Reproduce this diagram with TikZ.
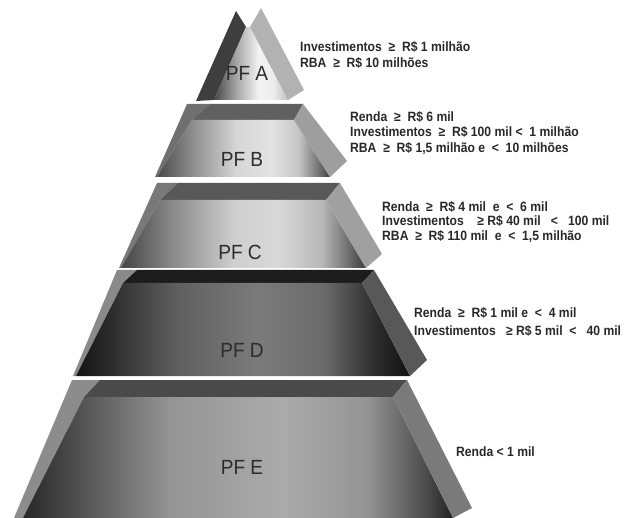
\documentclass[tikz,border=0pt]{standalone}
\usepackage{fontspec}
\setmainfont{Liberation Sans}
\newfontfamily\critfont{Liberation Sans}[FakeStretch=0.9]
\newfontfamily\lblfont{Liberation Sans}[FakeStretch=0.93]

\definecolor{txtcol}{RGB}{40,40,40}
\definecolor{lblcol}{RGB}{44,44,44}
\definecolor{sideA}{RGB}{62,62,62}
\definecolor{sideB}{RGB}{112,112,112}
\definecolor{sideC}{RGB}{120,120,120}
\definecolor{sideD}{RGB}{138,138,138}
\definecolor{sideE}{RGB}{140,140,140}
\definecolor{bevelB}{RGB}{96,96,96}
\definecolor{bevelC}{RGB}{88,88,88}
\definecolor{bevelD}{RGB}{28,28,28}
\definecolor{bevelE}{RGB}{74,74,74}
\definecolor{slabA}{RGB}{178,178,178}
\definecolor{slabB}{RGB}{158,158,158}
\definecolor{slabC}{RGB}{160,160,160}
\definecolor{slabD}{RGB}{88,88,88}
\definecolor{slabE}{RGB}{122,122,122}

\pgfdeclarehorizontalshading{frontA}{100bp}{color(0bp)=(black!72); color(25bp)=(black!72);
  color(40bp)=(black!35); color(55bp)=(black!5); color(65bp)=(black!7); color(75bp)=(black!25); color(100bp)=(black!25)}
\pgfdeclarehorizontalshading{frontB}{100bp}{color(0bp)=(black!71); color(25bp)=(black!71);
  color(35bp)=(black!45); color(48bp)=(black!16); color(58bp)=(black!11); color(66bp)=(black!23);
  color(72bp)=(black!57); color(75bp)=(black!76); color(100bp)=(black!76)}
\pgfdeclarehorizontalshading{frontC}{100bp}{color(0bp)=(black!73); color(25bp)=(black!73);
  color(35bp)=(black!47); color(48bp)=(black!19); color(57bp)=(black!15); color(66bp)=(black!28);
  color(72bp)=(black!60); color(75bp)=(black!77); color(100bp)=(black!77)}
\pgfdeclarehorizontalshading{frontD}{100bp}{color(0bp)=(black!92); color(25bp)=(black!92);
  color(30bp)=(black!83); color(40bp)=(black!63); color(52bp)=(black!52); color(62bp)=(black!58);
  color(70bp)=(black!83); color(75bp)=(black!93); color(100bp)=(black!93)}
\pgfdeclarehorizontalshading{frontE}{100bp}{color(0bp)=(black!85); color(25bp)=(black!85);
  color(32bp)=(black!67); color(42bp)=(black!42); color(55bp)=(black!33); color(65bp)=(black!42);
  color(72bp)=(black!71); color(75bp)=(black!87); color(100bp)=(black!87)}

\tikzset{
    lvl/.style={text=lblcol, font=\lblfont\fontsize{20.5}{22}\selectfont, inner sep=0pt},
    crit/.style={anchor=west, align=left, text=txtcol, font=\critfont\bfseries\fontsize{13.5}{15.5}\selectfont, inner sep=0pt}
}

\begin{document}
\begin{tikzpicture}[x=1pt,y=-1pt]

    \useasboundingbox (0,0) rectangle (626,518);
    \clip (0,0) rectangle (626,518);

    % Level A (top)
    \fill[sideA] (236,11) -- (246,27) -- (214,100) -- (196,101) -- cycle;
    \shade[shading=frontA] (246,27) -- (250,27) -- (288,100) -- (214,100) -- cycle;
    \fill[slabA] (261,8) -- (304,90) -- (288,100) -- (250,27) -- cycle;
    \node[lvl] at (247,73) (pfA) {PF A};

    % Level B
    \fill[sideB] (155,177) -- (187,104) -- (210,104) -- (192,120) -- (157,177) -- cycle;
    \fill[bevelB] (210,104) -- (303,104) -- (294,120) -- (192,120) -- cycle;
    \shade[shading=frontB] (192,120) -- (294,120) -- (330,177) -- (157,177) -- cycle;
    \fill[slabB] (303,104) -- (347,161) -- (330,177) -- (294,120) -- cycle;
    \node[lvl] at (242,159) (pfB) {PF B};

    % Level C
    \fill[sideC] (119,268) -- (157,183) -- (178,183) -- (160,200) -- (121,268) -- cycle;
    \fill[bevelC] (178,183) -- (340,183) -- (326,200) -- (160,200) -- cycle;
    \shade[shading=frontC] (160,200) -- (326,200) -- (366,268) -- (121,268) -- cycle;
    \fill[slabC] (340,183) -- (382,254) -- (366,268) -- (326,200) -- cycle;
    \node[lvl] at (240,252) (pfC) {PF C};

    % Level D
    \fill[sideD] (73,376) -- (117,270) -- (137,270) -- (123,283) -- (76,376) -- cycle;
    \fill[bevelD] (137,270) -- (374,270) -- (362,283) -- (123,283) -- cycle;
    \shade[shading=frontD] (123,283) -- (362,283) -- (410,376) -- (76,376) -- cycle;
    \fill[slabD] (374,270) -- (427,360) -- (410,376) -- (362,283) -- cycle;
    \node[lvl] at (242,350) (pfD) {PF D};

    % Level E (base)
    \fill[sideE] (14,518) -- (72,380) -- (100,380) -- (84,397) -- (23,518) -- cycle;
    \fill[bevelE] (100,380) -- (407,380) -- (393,397) -- (84,397) -- cycle;
    \shade[shading=frontE] (84,397) -- (393,397) -- (453,518) -- (23,518) -- cycle;
    \fill[slabE] (407,380) -- (472,508) -- (453,518) -- (393,397) -- cycle;
    \node[lvl] at (242,467) (pfE) {PF E};

    % Criteria
    \node[crit, font=\critfont\bfseries\fontsize{13.5}{16.5}\selectfont] at (300,55) (critA)
        {Investimentos \ ≥ \ R\$ 1 milhão\\RBA \ ≥ \ R\$ 10 milhões};
    \node[crit] at (350,133) (critB)
        {Renda \ ≥ \ R\$ 6 mil\\Investimentos \ ≥ \ R\$ 100 mil < \ 1 milhão\\RBA \ ≥ \ R\$ 1,5 milhão e \ < \ 10 milhões};
    \node[crit, font=\critfont\bfseries\fontsize{13.5}{14.5}\selectfont] at (382,222) (critC)
        {Renda \ ≥ \ R\$ 4 mil \ e \ < \ 6 mil\\Investimentos \ \ \ ≥ R\$ 40 mil \ \ < \ \ 100 mil\\RBA \ ≥ \ R\$ 110 mil \ e \ < \ 1,5 milhão};
    \node[crit, font=\critfont\bfseries\fontsize{13.5}{18}\selectfont] at (414,322) (critD)
        {Renda \ ≥ \ R\$ 1 mil e \ < \ 4 mil\\Investimentos \ \ ≥ R\$ 5 mil \ < \ \ 40 mil};
    \node[crit] at (456,452) (critE) {Renda < 1 mil};

\end{tikzpicture}
\end{document}
